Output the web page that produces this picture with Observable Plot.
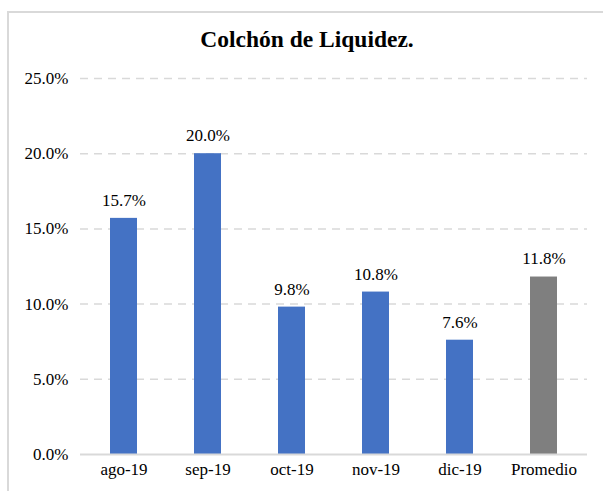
<!DOCTYPE html>
<html>
<head>
<meta charset="utf-8">
<script src="https://cdn.jsdelivr.net/npm/d3@7"></script>
<script src="https://cdn.jsdelivr.net/npm/@observablehq/plot@0.6"></script>
<style>
  html, body { margin: 0; padding: 0; background: #fff; }
  #wrap { position: relative; width: 603px; height: 491px; overflow: hidden; }
  #box { position: absolute; left: 7px; top: 11px; width: 620px; height: 520px; border: 2px solid #d9d9d9; box-sizing: border-box; }
  #title { position: absolute; left: 0; width: 614px; top: 26px; text-align: center; font-family: "Liberation Serif", "Times New Roman", serif; font-weight: bold; font-size: 23.5px; color: #000; }
  #chart { position: absolute; left: 0; top: 0; }
</style>
</head>
<body>
<div id="wrap">
  <div id="box"></div>
  <div id="chart"></div>
  <div id="title">Colchón de Liquidez.</div>
</div>
<script>
const categories = ["ago-19", "sep-19", "oct-19", "nov-19", "dic-19", "Promedio"];
const values = [15.7, 20.0, 9.8, 10.8, 7.6, 11.8];
const colors = ["#4472C4", "#4472C4", "#4472C4", "#4472C4", "#4472C4", "#7F7F7F"];
const yTicks = [0, 5, 10, 15, 20, 25];

const data = categories.map((c, i) => ({cat: c, value: values[i], color: colors[i]}));
const fmt = d => d.toFixed(1) + "%";

const chart = Plot.plot({
  width: 603,
  height: 491,
  marginLeft: 80,
  marginRight: 16,
  marginTop: 78,
  marginBottom: 37,
  style: {fontFamily: "'Liberation Serif', 'Times New Roman', serif", fontSize: "17px", color: "#000", background: "transparent"},
  x: {domain: categories, paddingInner: 0.68, paddingOuter: 0.34, label: null, tickSize: 0, tickPadding: 8},
  y: {domain: [0, 25], ticks: yTicks, tickFormat: fmt, label: null, tickSize: 0, tickPadding: 12},
  marks: [
    Plot.ruleY(yTicks.filter(d => d > 0), {stroke: "#d9d9d9", strokeWidth: 1.5, strokeDasharray: "8,6"}),
    Plot.barY(data, {x: "cat", y: "value", fill: "color"}),
    Plot.ruleY([0], {stroke: "#d9d9d9", strokeWidth: 2}),
    Plot.text(data, {x: "cat", y: "value", text: d => fmt(d.value), dy: -18, fill: "#000", fontSize: 17})
  ]
});
document.getElementById("chart").appendChild(chart);
</script>
</body>
</html>
